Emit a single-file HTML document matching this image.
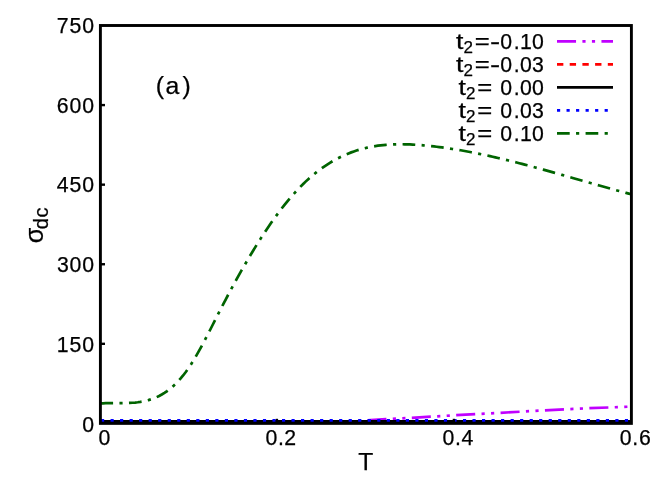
<!DOCTYPE html>
<html><head><meta charset="utf-8"><title>sigma dc vs T</title>
<style>html,body{margin:0;padding:0;background:#fff}svg{display:block;will-change:transform}text{font-family:"Liberation Sans",sans-serif;fill:#000;stroke:#000;stroke-width:0.25px}</style>
</head><body>
<svg width="664" height="498" viewBox="0 0 664 498">
<rect x="0" y="0" width="664" height="498" fill="#fff"/>
<defs><clipPath id="pc"><rect x="100.40" y="25.50" width="531.00" height="397.90"/></clipPath></defs>
<g clip-path="url(#pc)" fill="none" stroke-width="2.7">
<path d="M100.4,421.9 L320.0,421.9 L340.0,421.6 L355.0,421.1 L370.7,420.2 L386.0,419.2 L411.8,417.8 L456.3,415.2 L500.5,412.8 L544.8,410.3 L589.3,408.2 L631.5,406.6" stroke="#c000ff" stroke-dasharray="19.050 6.350 3.175 6.350 3.175 6.350" stroke-dashoffset="44.09"/>
<path d="M100.4,422.4 L631.4,422.4" stroke="#ff0000" stroke-dasharray="6.350 6.350"/>
<path d="M100.4,421.3 L631.4,421.3" stroke="#000"/>
<path d="M100.4,420.3 L631.4,420.3" stroke="#0000ff" stroke-dashoffset="-0.6" stroke-dasharray="3.175 6.350"/>
<path d="M100.40,403.45 L103.07,403.29 L105.74,403.18 L108.41,403.12 L111.07,403.09 L113.74,403.08 L116.41,403.09 L119.08,403.10 L121.75,403.09 L124.42,403.07 L127.08,403.01 L129.75,402.92 L132.42,402.77 L135.09,402.55 L137.76,402.26 L140.43,401.89 L143.09,401.42 L145.76,400.84 L148.43,400.15 L151.10,399.32 L153.77,398.36 L156.44,397.24 L159.10,395.97 L161.77,394.52 L164.44,392.89 L167.11,391.07 L169.78,389.04 L172.45,386.80 L175.11,384.33 L177.78,381.63 L180.45,378.67 L183.12,375.46 L185.79,371.98 L188.46,368.22 L191.12,364.18 L193.79,359.89 L196.46,355.38 L199.13,350.68 L201.80,345.81 L204.47,340.80 L207.13,335.69 L209.80,330.50 L212.47,325.26 L215.14,320.00 L217.81,314.75 L220.48,309.53 L223.14,304.37 L225.81,299.26 L228.48,294.21 L231.15,289.22 L233.82,284.30 L236.49,279.43 L239.15,274.64 L241.82,269.91 L244.49,265.25 L247.16,260.66 L249.83,256.14 L252.50,251.70 L255.16,247.34 L257.83,243.05 L260.50,238.85 L263.17,234.72 L265.84,230.68 L268.51,226.73 L271.17,222.86 L273.84,219.08 L276.51,215.40 L279.18,211.80 L281.85,208.30 L284.52,204.90 L287.18,201.60 L289.85,198.40 L292.52,195.29 L295.19,192.30 L297.86,189.41 L300.53,186.62 L303.19,183.95 L305.86,181.38 L308.53,178.92 L311.20,176.57 L313.87,174.31 L316.54,172.16 L319.20,170.10 L321.87,168.14 L324.54,166.28 L327.21,164.51 L329.88,162.82 L332.55,161.23 L335.21,159.72 L337.88,158.30 L340.55,156.96 L343.22,155.70 L345.89,154.51 L348.56,153.41 L351.22,152.38 L353.89,151.42 L356.56,150.53 L359.23,149.71 L361.90,148.95 L364.57,148.26 L367.23,147.63 L369.90,147.07 L372.57,146.56 L375.24,146.11 L377.91,145.71 L380.58,145.36 L383.24,145.07 L385.91,144.82 L388.58,144.62 L391.25,144.47 L393.92,144.35 L396.59,144.28 L399.25,144.25 L401.92,144.25 L404.59,144.29 L407.26,144.36 L409.93,144.46 L412.60,144.59 L415.26,144.74 L417.93,144.92 L420.60,145.13 L423.27,145.35 L425.94,145.59 L428.61,145.86 L431.27,146.13 L433.94,146.43 L436.61,146.74 L439.28,147.07 L441.95,147.42 L444.62,147.78 L447.28,148.16 L449.95,148.56 L452.62,148.97 L455.29,149.39 L457.96,149.83 L460.63,150.28 L463.29,150.75 L465.96,151.23 L468.63,151.73 L471.30,152.23 L473.97,152.75 L476.64,153.29 L479.30,153.83 L481.97,154.39 L484.64,154.95 L487.31,155.53 L489.98,156.12 L492.65,156.72 L495.31,157.33 L497.98,157.95 L500.65,158.58 L503.32,159.22 L505.99,159.87 L508.66,160.52 L511.32,161.18 L513.99,161.86 L516.66,162.53 L519.33,163.22 L522.00,163.91 L524.67,164.61 L527.33,165.32 L530.00,166.03 L532.67,166.75 L535.34,167.47 L538.01,168.20 L540.68,168.93 L543.34,169.67 L546.01,170.41 L548.68,171.15 L551.35,171.90 L554.02,172.65 L556.69,173.40 L559.35,174.16 L562.02,174.92 L564.69,175.67 L567.36,176.44 L570.03,177.20 L572.70,177.96 L575.36,178.72 L578.03,179.49 L580.70,180.25 L583.37,181.01 L586.04,181.77 L588.71,182.53 L591.37,183.29 L594.04,184.05 L596.71,184.80 L599.38,185.56 L602.05,186.30 L604.72,187.05 L607.38,187.79 L610.05,188.53 L612.72,189.27 L615.39,190.00 L618.06,190.73 L620.73,191.45 L623.39,192.16 L626.06,192.87 L628.73,193.58 L631.40,194.27" stroke="#006400" stroke-dasharray="12.700 6.350 3.175 6.350"/>
</g>
<g stroke="#000" stroke-width="2.4" fill="none">
<path d="M100.4,343.82 H105.0"/>
<path d="M100.4,264.24 H105.0"/>
<path d="M100.4,184.66 H105.0"/>
<path d="M100.4,105.08 H105.0"/>
<path d="M276.90,423.4 V418.8"/>
<path d="M453.90,423.4 V418.8"/>
</g>
<rect x="100.40" y="25.50" width="531.00" height="397.90" fill="none" stroke="#000" stroke-width="2.9"/>
<g fill="none" stroke-width="2.7">
<path d="M557,41.4 H613" stroke="#c000ff" stroke-dasharray="19.050 6.350 3.175 6.350 3.175 6.350"/>
<path d="M557,64.4 H613" stroke="#ff0000" stroke-dasharray="6.350 6.350"/>
<path d="M557,87.4 H613" stroke="#000"/>
<path d="M557,110.3 H613" stroke="#0000ff" stroke-dasharray="3.175 6.350"/>
<path d="M557,133.4 H613" stroke="#006400" stroke-dasharray="12.700 6.350 3.175 6.350"/>
</g>
<text y="48.80" font-size="21.26"><tspan x="456.00" textLength="7.4" lengthAdjust="spacingAndGlyphs">t</tspan><tspan x="463.45" dy="4.2" font-size="17.01">2</tspan><tspan dy="-4.2" x="474.75" textLength="15" lengthAdjust="spacingAndGlyphs">=</tspan><tspan x="489.9" textLength="10.2" lengthAdjust="spacingAndGlyphs">-</tspan><tspan x="500.15 513.72 519.94 531.95">0.10</tspan></text>
<text y="71.80" font-size="21.26"><tspan x="456.00" textLength="7.4" lengthAdjust="spacingAndGlyphs">t</tspan><tspan x="463.45" dy="4.2" font-size="17.01">2</tspan><tspan dy="-4.2" x="474.75" textLength="15" lengthAdjust="spacingAndGlyphs">=</tspan><tspan x="489.9" textLength="10.2" lengthAdjust="spacingAndGlyphs">-</tspan><tspan x="500.15 513.72 520.05 531.97">0.03</tspan></text>
<text y="94.80" font-size="21.26"><tspan x="458.60" textLength="7.4" lengthAdjust="spacingAndGlyphs">t</tspan><tspan x="466.05" dy="4.2" font-size="17.01">2</tspan><tspan dy="-4.2" x="477.35" textLength="15" lengthAdjust="spacingAndGlyphs">=</tspan><tspan x="500.15 513.72 520.05 531.95">0.00</tspan></text>
<text y="117.70" font-size="21.26"><tspan x="458.60" textLength="7.4" lengthAdjust="spacingAndGlyphs">t</tspan><tspan x="466.05" dy="4.2" font-size="17.01">2</tspan><tspan dy="-4.2" x="477.35" textLength="15" lengthAdjust="spacingAndGlyphs">=</tspan><tspan x="500.15 513.72 520.05 531.97">0.03</tspan></text>
<text y="140.80" font-size="21.26"><tspan x="458.60" textLength="7.4" lengthAdjust="spacingAndGlyphs">t</tspan><tspan x="466.05" dy="4.2" font-size="17.01">2</tspan><tspan dy="-4.2" x="477.35" textLength="15" lengthAdjust="spacingAndGlyphs">=</tspan><tspan x="500.15 513.72 519.94 531.95">0.10</tspan></text>
<text x="82.32" y="432.00" font-size="21.26">0</text>
<text x="56.76 69.52 82.32" y="351.62" font-size="21.26">150</text>
<text x="56.90 69.60 82.32" y="272.04" font-size="21.26">300</text>
<text x="56.87 69.52 82.32" y="192.46" font-size="21.26">450</text>
<text x="56.87 69.60 82.32" y="112.88" font-size="21.26">600</text>
<text x="56.83 69.52 82.32" y="33.30" font-size="21.26">750</text>
<text x="98.38" y="444.90" font-size="21.26">0</text>
<text x="265.54 278.04 284.36" y="444.90" font-size="21.26">0.2</text>
<text x="442.44 454.94 461.52" y="444.90" font-size="21.26">0.4</text>
<text x="619.84 632.34 638.92" y="444.90" font-size="21.26">0.6</text>
<text x="155.78 165.41 182.40" y="94.00" font-size="24.80">(a)</text>
<text x="358.14" y="469.6" font-size="24.60">T</text>
<text transform="rotate(-90)" y="42.8" font-size="25.26"><tspan x="-243.18">σ</tspan><tspan font-size="20.11" dy="5" x="-229.27 -217.49">dc</tspan></text>
</svg></body></html>
